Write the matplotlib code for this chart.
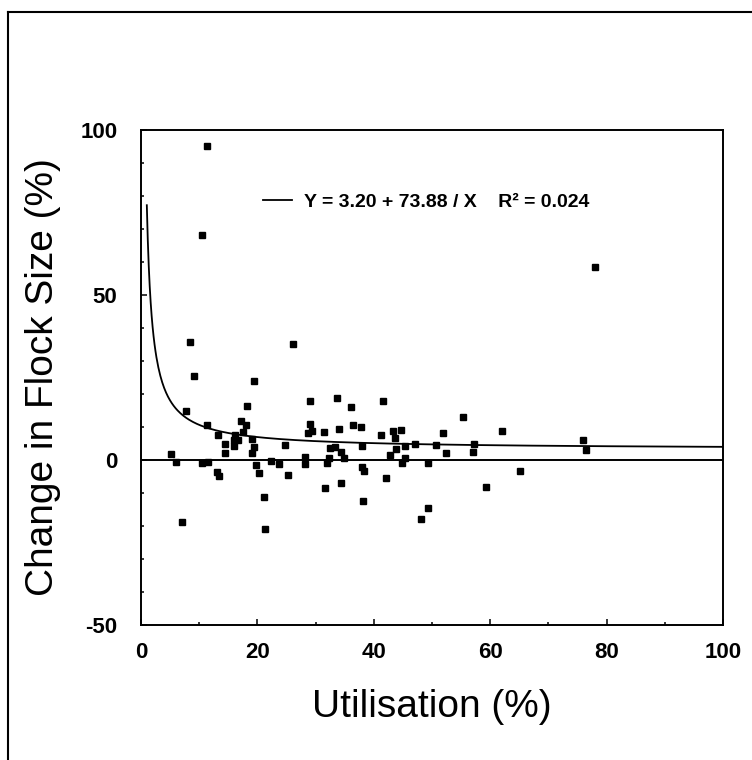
import numpy as np
import matplotlib
matplotlib.use("Agg")
import matplotlib.pyplot as plt
from matplotlib.lines import Line2D
from matplotlib.ticker import MultipleLocator

plt.rcParams['font.family'] = ['Liberation Sans', 'DejaVu Sans']
plt.rcParams['axes.unicode_minus'] = False

# utilisation (%) and change in flock size (%)
util = [11.3, 10.5, 78.0, 62.1, 75.9, 76.5, 65.1,
        8.4, 26.1, 9.05, 19.5, 7.7, 18.2, 29.1, 33.6, 11.4, 17.1, 18.0, 17.5,
        13.2, 16.1, 15.9, 16.7, 14.4, 16.0, 19.1, 19.5, 19.0, 14.4, 24.8,
        29.1, 29.3, 28.7, 31.4, 34.0, 32.5, 33.3, 32.3, 5.1, 6.0, 10.5, 11.5,
        13.1, 13.4, 19.8, 20.3, 22.3, 23.7, 25.3, 28.1, 28.2, 31.9, 34.4,
        31.6, 21.1, 7.1, 21.3,
        36.0, 41.5, 36.4, 37.8, 55.4, 43.3, 44.6, 41.3, 43.6, 51.9, 34.3,
        34.8, 37.9, 43.8, 45.3, 47.1, 50.7, 57.3, 52.4, 57.0, 42.8, 45.3,
        44.8, 49.4, 37.9, 38.4, 42.1, 59.3, 38.2, 49.4, 48.1]
change = [94.9, 68.2, 58.5, 8.6, 6.0, 3.0, -3.5,
          35.7, 35.2, 25.5, 24.0, 14.7, 16.2, 17.7, 18.8, 10.6, 11.9, 10.6, 8.4,
          7.5, 7.5, 5.9, 5.9, 4.8, 4.3, 6.3, 3.9, 2.2, 2.2, 4.5,
          11.0, 8.7, 8.0, 8.4, 9.2, 3.5, 3.8, 0.5, 1.9, -0.5, -1.1, -0.8,
          -3.8, -5.0, -1.6, -3.9, -0.2, -1.2, -4.5, 0.9, -1.3, -1.0, -6.9,
          -8.6, -11.2, -18.8, -20.9,
          15.9, 17.9, 10.6, 9.8, 12.9, 8.7, 9.0, 7.5, 6.6, 8.0, 2.4,
          0.6, 4.2, 3.4, 4.2, 4.8, 4.5, 4.8, 2.2, 2.4, 1.6, 0.6,
          -1.1, -1.1, -2.1, -3.3, -5.4, -8.3, -12.4, -14.7, -18.0]

# fitted model Y = a + b / X
fit_a = 3.20
fit_b = 73.88
fit_label = "Y = 3.20 + 73.88 / X    R\u00b2 = 0.024"

fig = plt.figure(figsize=(7.52, 7.6), dpi=100)
ax = fig.add_axes([0.1875, 0.1776, 0.7739, 0.652])

xs = np.linspace(1, 100, 600)
ax.plot(xs, fit_a + fit_b / xs, color='black', lw=1.3, label=fit_label)
ax.axhline(0, color='black', lw=1.4)
ax.plot(util, change, 's', color='black', ms=4.8, ls='none')

ax.set_xlim(0, 100)
ax.set_ylim(-50, 100)
ax.xaxis.set_major_locator(MultipleLocator(20))
ax.xaxis.set_minor_locator(MultipleLocator(10))
ax.yaxis.set_major_locator(MultipleLocator(50))
ax.yaxis.set_minor_locator(MultipleLocator(10))
ax.tick_params(which='both', direction='in', width=1.1, labelsize=16)
ax.tick_params(which='major', length=4.5)
ax.tick_params(which='minor', length=2.5)
ax.tick_params(axis='y', pad=17)
ax.tick_params(axis='x', pad=12)
for lab in ax.get_xticklabels() + ax.get_yticklabels():
    lab.set_fontweight('bold')
for s in ax.spines.values():
    s.set_linewidth(1.4)

ax.set_xlabel("Utilisation (%)", fontsize=28, va='center')
ax.set_ylabel("Change in Flock Size (%)", fontsize=28, va='center')
ax.xaxis.set_label_coords(0.5, -0.166)
ax.yaxis.set_label_coords(-0.168, 0.5)

leg = ax.legend(loc='center left', bbox_to_anchor=(0.21, 0.853), frameon=False,
                borderpad=0, borderaxespad=0, handlelength=1.5, handletextpad=0.6,
                prop={'size': 14, 'weight': 'bold'})

# outer frame of the figure (top and left edges visible)
fig.add_artist(Line2D([0.0106, 1.0], [0.984, 0.984], color='black', lw=1.5))
fig.add_artist(Line2D([0.0106, 0.0106], [0.0, 0.984], color='black', lw=1.5))

fig.savefig("out.png", dpi=100)
